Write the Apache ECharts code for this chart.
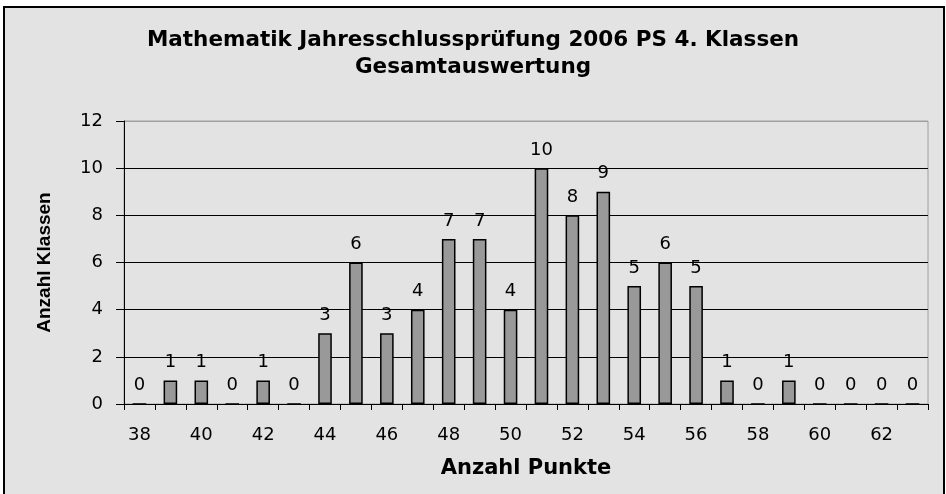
<!DOCTYPE html>
<html><head><meta charset="utf-8">
<script src="https://cdn.jsdelivr.net/npm/echarts@6/dist/echarts.min.js"></script>
<style>html,body{margin:0;padding:0;background:#fff}#c{width:946px;height:494px}</style>
</head><body><div id="c"></div>
<script>
const categories = ['38','39','40','41','42','43','44','45','46','47','48','49','50','51','52','53','54','55','56','57','58','59','60','61','62','63'];
const values = [0,1,1,0,1,0,3,6,3,4,7,7,4,10,8,9,5,6,5,1,0,1,0,0,0,0];
const titleLines = ['Mathematik Jahresschlussprüfung 2006 PS 4. Klassen','Gesamtauswertung'];
const xName = 'Anzahl Punkte';
const yName = 'Anzahl Klassen';
const yTicks = [0,2,4,6,8,10,12];

const gridColors = yTicks.map((v, i) => i === yTicks.length - 1 ? '#a0a0a0' : '#000000');

const chart = echarts.init(document.getElementById('c'), null, {renderer:'canvas'});
chart.setOption({
  backgroundColor: '#ffffff',
  animation: false,
  graphic: [{
    type: 'rect', z: -10, silent: true,
    shape: {x: 4, y: 7, width: 940, height: 490},
    style: {fill: '#e3e3e3', stroke: '#000', lineWidth: 2}
  }, {
    type: 'rect', z: -5, silent: true,
    shape: {x: 124, y: 121, width: 804, height: 283},
    style: {fill: 'none', stroke: '#a0a0a0', lineWidth: 1}
  }],
  title: {
    text: titleLines.join('\n'),
    left: 'center', top: 22,
    textStyle: {fontFamily: 'DejaVu Sans, sans-serif', fontWeight: 'bold', fontSize: 21.5, lineHeight: 27, color: '#000'}
  },
  grid: {left: 124, right: 18, top: 121, bottom: 90, containLabel: false},
  xAxis: {
    type: 'category', data: categories,
    name: xName, nameLocation: 'middle', nameGap: 54,
    nameTextStyle: {fontFamily: 'DejaVu Sans, sans-serif', fontWeight: 'bold', fontSize: 21, color: '#000'},
    axisLine: {lineStyle: {color: '#000', width: 1}},
    axisTick: {show: true, alignWithLabel: false, interval: 0, length: 6, inside: false, lineStyle: {color: '#000'}},
    axisLabel: {interval: 1, margin: 22, fontFamily: 'DejaVu Sans, sans-serif', fontSize: 18, color: '#000'},
    splitLine: {show: false}
  },
  yAxis: {
    type: 'value', min: 0, max: 12, interval: 2,
    name: yName, nameLocation: 'middle', nameGap: 70,
    nameTextStyle: {fontFamily: 'Liberation Sans, Arial, sans-serif', fontWeight: 'bold', fontSize: 19, color: '#000'},
    axisLine: {show: true, lineStyle: {color: '#000'}},
    axisTick: {show: true, length: 8, lineStyle: {color: '#000'}},
    axisLabel: {margin: 21, fontFamily: 'DejaVu Sans, sans-serif', fontSize: 18, color: '#000'},
    splitLine: {show: true, lineStyle: {color: gridColors, width: 1}}
  },
  series: [{
    type: 'bar', data: values, barWidth: '44%',
    itemStyle: {color: '#999999', borderColor: '#000', borderWidth: 1.5},
    label: {show: true, position: 'top', distance: 9, fontFamily: 'DejaVu Sans, sans-serif', fontSize: 18, color: '#000'}
  }]
});
</script></body></html>
